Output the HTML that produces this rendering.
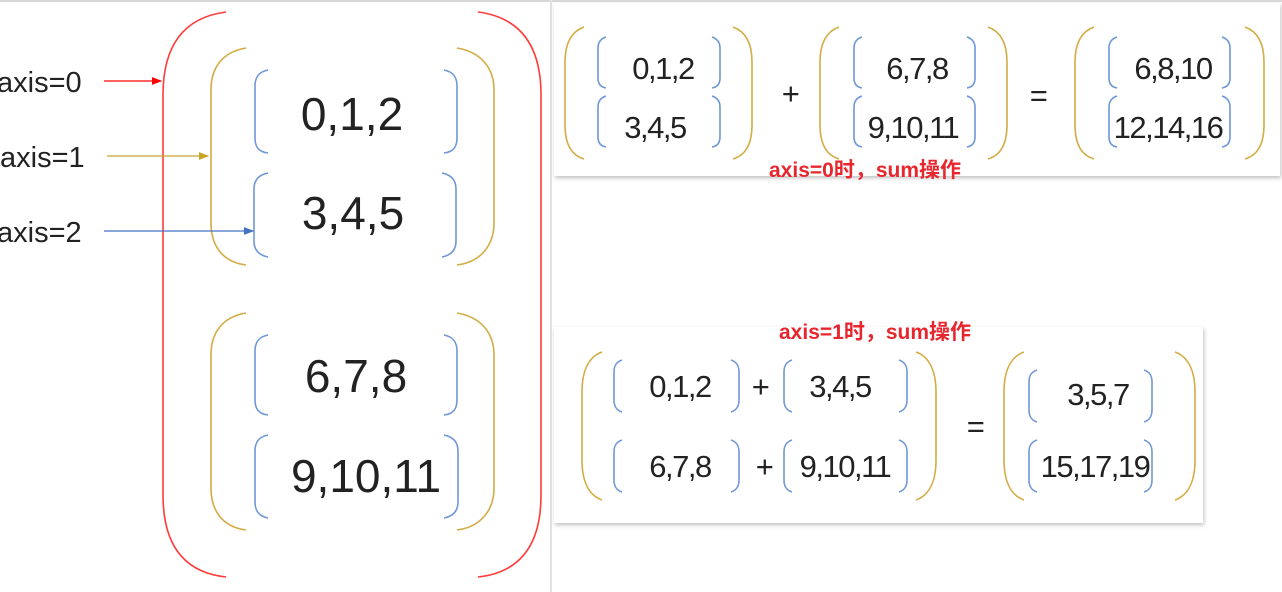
<!DOCTYPE html>
<html><head><meta charset="utf-8"><style>
html,body{margin:0;padding:0;background:#fff;}
body{width:1282px;height:592px;overflow:hidden;position:relative;}
svg{position:absolute;left:0;top:0;}
text{font-family:"Liberation Sans","Noto Sans CJK SC",sans-serif;fill:#222;}
.p text{letter-spacing:-1.5px;}
</style></head><body>
<svg width="1282" height="592" viewBox="0 0 1282 592">
<defs>
<marker id="ar" markerWidth="8" markerHeight="8" refX="7" refY="4" orient="auto"><path d="M0,1 L8,4 L0,7 Z" fill="#f00"/></marker>
<marker id="ag" markerWidth="8" markerHeight="8" refX="7" refY="4" orient="auto"><path d="M0,1 L8,4 L0,7 Z" fill="#c9a227"/></marker>
<marker id="ab" markerWidth="8" markerHeight="8" refX="7" refY="4" orient="auto"><path d="M0,1 L8,4 L0,7 Z" fill="#4472c4"/></marker>
<filter id="sh" x="-5%" y="-10%" width="110%" height="120%"><feDropShadow dx="1" dy="2" stdDeviation="2" flood-color="#000" flood-opacity="0.25"/></filter>
</defs>
<rect x="0" y="0" width="1282" height="2" fill="#d8d8d8"/>
<rect x="550" y="0" width="2" height="592" fill="#e2e2e2"/>

<g fill="none" stroke-width="1.6">
<path d="M226 12 C180 18 163 50 163 95 L163 495 C163 540 180 572 226 577" stroke="#ff3b3b"/>
<path d="M478 12 C524 18 541 50 541 95 L541 495 C541 540 524 572 478 577" stroke="#ff3b3b"/>
<g stroke="#d4ac45">
<path d="M246 48 C222 52 211 68 211 90 L211 223 C211 245 222 262 246 265"/>
<path d="M457 48 C481 52 494 68 494 90 L494 223 C494 245 481 262 457 265"/>
<path d="M246 313 C222 317 211 333 211 355 L211 488 C211 510 222 527 246 530"/>
<path d="M457 313 C481 317 494 333 494 355 L494 488 C494 510 481 527 457 530"/>
</g>
<g stroke="#6f97d6">
<path d="M268 70 C258 72 255 78 255 86 L255 138 C255 146 258 152 268 153"/><path d="M444 70 C454 72 457 78 457 86 L457 138 C457 146 454 152 444 153"/>
<path d="M268 173 C258 175 254 181 254 189 L254 241 C254 249 258 255 268 257"/><path d="M442 173 C452 175 456 181 456 189 L456 241 C456 249 452 255 442 257"/>
<path d="M268 335 C258 337 255 343 255 351 L255 400 C255 408 258 414 268 415"/><path d="M444 335 C454 337 457 343 457 351 L457 400 C457 408 454 414 444 415"/>
<path d="M268 435 C258 437 255 443 255 451 L255 502 C255 510 258 516 268 518"/><path d="M444 435 C454 437 458 443 458 451 L458 502 C458 510 454 516 444 518"/>
</g>
</g>
<g font-size="46" text-anchor="middle">
<text x="352" y="130">0,1,2</text><text x="353" y="229">3,4,5</text>
<text x="356" y="392">6,7,8</text><text x="366" y="492">9,10,11</text>
</g>
<g font-size="29">
<text x="-3" y="92">axis=0</text><text x="0" y="167">axis=1</text><text x="-3" y="242">axis=2</text>
</g>
<line x1="104" y1="81" x2="161" y2="81" stroke="#f00" stroke-width="1.3" marker-end="url(#ar)"/>
<line x1="107" y1="156" x2="208" y2="156" stroke="#c9a227" stroke-width="1.3" marker-end="url(#ag)"/>
<line x1="104" y1="231" x2="253" y2="231" stroke="#4472c4" stroke-width="1.3" marker-end="url(#ab)"/>

<g class="p">
<rect x="554" y="3" width="726" height="173" fill="#fff" filter="url(#sh)"/>
<g fill="none" stroke-width="1.6">
<g stroke="#d4ac45">
<path d="M584 27 C570 32 565 45 565 62 L565 125 C565 142 570 155 584 159"/><path d="M733 27 C747 32 752 45 752 62 L752 125 C752 142 747 155 733 159"/>
<path d="M839 27 C825 32 820 45 820 62 L820 125 C820 142 825 155 839 159"/><path d="M988 27 C1002 32 1007 45 1007 62 L1007 125 C1007 142 1002 155 988 159"/>
<path d="M1094 27 C1080 32 1075 45 1075 62 L1075 125 C1075 142 1080 155 1094 159"/><path d="M1245 27 C1259 32 1264 45 1264 62 L1264 125 C1264 142 1259 155 1245 159"/>
</g>
<g stroke="#6f97d6">
<path d="M606 37 C600 39 598 43 598 48 L598 78 C598 83 600 87 606 88"/><path d="M712 37 C718 39 720 43 720 48 L720 78 C720 83 718 87 712 88"/>
<path d="M606 96 C600 98 598 102 598 107 L598 137 C598 142 600 146 606 147"/><path d="M712 96 C718 98 720 102 720 107 L720 137 C720 142 718 146 712 147"/>
<path d="M862 37 C856 39 854 43 854 48 L854 78 C854 83 856 87 862 88"/><path d="M967 37 C973 39 975 43 975 48 L975 78 C975 83 973 87 967 88"/>
<path d="M862 96 C856 98 854 102 854 107 L854 137 C854 142 856 146 862 147"/><path d="M967 96 C973 98 975 102 975 107 L975 137 C975 142 973 146 967 147"/>
<path d="M1117 37 C1111 39 1109 43 1109 48 L1109 78 C1109 83 1111 87 1117 88"/><path d="M1222 37 C1228 39 1230 43 1230 48 L1230 78 C1230 83 1228 87 1222 88"/>
<path d="M1117 96 C1111 98 1109 102 1109 107 L1109 137 C1109 142 1111 146 1117 147"/><path d="M1222 96 C1228 98 1230 102 1230 107 L1230 137 C1230 142 1228 146 1222 147"/>
</g></g>
<g font-size="31" text-anchor="middle">
<text x="663" y="79">0,1,2</text><text x="655" y="138">3,4,5</text>
<text x="917" y="79">6,7,8</text><text x="913" y="138">9,10,11</text>
<text x="1173" y="79">6,8,10</text><text x="1168" y="138">12,14,16</text>
<text x="790" y="104">+</text><text x="1038" y="106">=</text>
</g>
<text x="865" y="177" font-size="21" font-weight="bold" text-anchor="middle" style="fill:#e8262e;letter-spacing:0">axis=0时，sum操作</text>
</g>

<g class="p">
<rect x="554" y="327" width="649" height="196" fill="#fff" filter="url(#sh)"/>
<text x="875" y="339" font-size="21" font-weight="bold" text-anchor="middle" style="fill:#e8262e;letter-spacing:0">axis=1时，sum操作</text>
<g fill="none" stroke-width="1.6">
<g stroke="#d4ac45">
<path d="M602 352 C588 357 582 372 582 392 L582 460 C582 480 588 495 602 500"/><path d="M916 352 C930 357 936 372 936 392 L936 460 C936 480 930 495 916 500"/>
<path d="M1024 352 C1010 357 1004 372 1004 392 L1004 460 C1004 480 1010 495 1024 500"/><path d="M1175 352 C1189 357 1195 372 1195 392 L1195 460 C1195 480 1189 495 1175 500"/>
</g>
<g stroke="#6f97d6">
<path d="M622 360 C616 362 614 366 614 372 L614 400 C614 406 616 410 622 412"/><path d="M731 360 C737 362 739 366 739 372 L739 400 C739 406 737 410 731 412"/>
<path d="M792 360 C786 362 784 366 784 372 L784 400 C784 406 786 410 792 412"/><path d="M899 360 C905 362 907 366 907 372 L907 400 C907 406 905 410 899 412"/>
<path d="M622 440 C616 442 614 446 614 452 L614 480 C614 486 616 490 622 492"/><path d="M731 440 C737 442 739 446 739 452 L739 480 C739 486 737 490 731 492"/>
<path d="M792 440 C786 442 784 446 784 452 L784 480 C784 486 786 490 792 492"/><path d="M899 440 C905 442 907 446 907 452 L907 480 C907 486 905 490 899 492"/>
<path d="M1037 370 C1031 372 1029 376 1029 382 L1029 410 C1029 416 1031 420 1037 422"/><path d="M1144 370 C1150 372 1152 376 1152 382 L1152 410 C1152 416 1150 420 1144 422"/>
<path d="M1037 440 C1031 442 1029 446 1029 452 L1029 480 C1029 486 1031 490 1037 492"/><path d="M1144 440 C1150 442 1152 446 1152 452 L1152 480 C1152 486 1150 490 1144 492"/>
</g></g>
<g font-size="31" text-anchor="middle">
<text x="680" y="397">0,1,2</text><text x="840" y="397">3,4,5</text>
<text x="680" y="477">6,7,8</text><text x="845" y="477">9,10,11</text>
<text x="1098" y="405">3,5,7</text><text x="1095" y="477">15,17,19</text>
<text x="760" y="397">+</text><text x="764" y="477">+</text><text x="975" y="437">=</text>
</g>
</g>
</svg>
</body></html>
